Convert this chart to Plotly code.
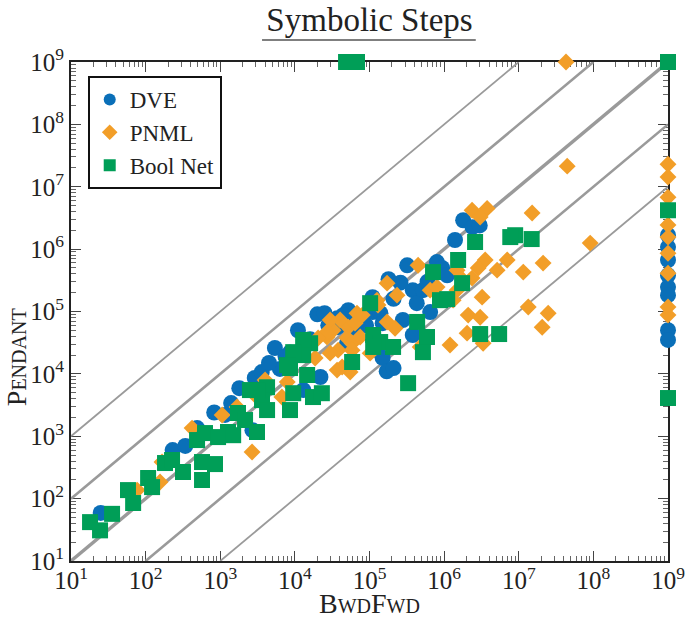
import plotly.graph_objects as go

# ---------------- data ----------------
dve_x = [25, 230, 490, 830, 1400, 2700, 2900, 5400, 6300, 8600,
         1.1e4, 1.3e4, 2.0e4, 2.2e4, 2.5e4, 3.7e4, 3.7e4, 5.2e4, 5.0e4, 6.0e4,
         6.8e4, 8.2e4, 1.1e5, 1.1e5, 1.26e5, 1.4e5, 1.5e5, 1.5e5, 1.7e5, 2.1e5,
         2.1e5, 2.6e5, 2.8e5, 3.2e5, 3.8e5, 3.8e5, 4.3e5, 5.2e5, 6.5e5, 8.0e5,
         9.4e5, 1.1e6, 1.4e6, 1.8e6, 2.4e6, 3.0e6, 1800, 3600, 1160, 340,
         2.8e4, 4.5e4, 1.6e4, 9.0e4, 1.8e5, 4.5e3, 7.5e3, 6.0e5,
         1e9, 1e9, 1e9, 1e9, 1e9, 1e9, 1e9, 1e9]
dve_y = [59, 600, 1350, 2400, 3400, 1250, 8600, 2.6e4, 1.2e4, 2.2e4,
         5.0e4, 5500, 9.0e4, 8900, 9.4e4, 7.8e4, 5.6e4, 1.05e5, 3.1e4, 6.5e4,
         5.0e4, 8.1e4, 1.7e5, 9.8e4, 2.4e4, 9.4e4, 6.5e4, 1.8e4, 1.1e4, 1.6e5,
         1.24e4, 2.9e5, 7.3e4, 5.5e5, 2.2e5, 4.2e4, 1.36e5, 2.2e5, 9.8e4, 6.2e5,
         5.0e5, 3.8e5, 1.4e6, 2.9e6, 2.25e6, 2.4e6, 5900, 1.07e4, 2200, 700,
         6.0e4, 8.8e4, 3.6e4, 6.0e4, 3.3e5, 1.5e4, 1.9e4, 3.0e5,
         1.67e6, 1.08e6, 6.7e5, 3.8e5, 2.46e5, 1.83e5, 5.0e4, 3.5e4]

pnml_x = [2.37e6, 3.77e6, 3.04e6, 1.51e7, 4.46e7, 9.06e7, 4.3e7, 4.48e5, 1.72e5, 2.34e5,
          3.55e6, 2.86e6, 7.0e6, 5.13e6, 1.15e7, 2.12e7, 2.37e6, 1.49e6, 3.23e6, 2.1e6,
          3.04e6, 2.03e6, 3.33e6, 1.2e6, 1.34e7, 2.06e7, 2.48e7, 5.2e4, 3.25e4, 6.8e4,
          4.04e4, 5.0e4, 5.85e4, 3.68e4, 5.5e4, 8.6e3, 1.72e5, 2.2e5, 4.77e5, 6.5e5,
          1.32e6, 1.8e6, 1.49e6, 1.26e5, 8.05e5, 2.97e4, 6.4e4, 8.0e4, 1.3e5, 2.7e4,
          7.5e4, 3.8e4, 5.85e4, 1.02e5, 4.3e4, 2.7e4, 2.05e4, 2.97e4, 1.87e4, 7.9e3,
          6.7e3, 1.68e3, 1.06e3, 419, 166, 156, 77, 2.67e3, 3.99e3, 1.17e4,
          2.92e3,
          1e9, 1e9, 1e9, 1e9, 1e9, 1e9, 1e9, 1e9, 1e9]
pnml_y = [4.2e6, 4.5e6, 3.26e6, 3.8e6, 2.14e7, 1.25e6, 1e9, 5.5e5, 2.85e5, 1.83e5,
          6.7e5, 4.97e5, 6.7e5, 4.6e5, 4.28e5, 5.97e5, 3.43e5, 2.2e5, 1.7e5, 8.75e4,
          8.1e4, 4.5e4, 3.1e4, 2.9e4, 1.18e5, 5.6e4, 9.4e4, 5.6e4, 5.0e4, 9.4e4,
          7.3e4, 3.75e4, 3.1e4, 1.15e4, 1.07e4, 1.55e4, 6.8e4, 5.4e4, 2.7e4, 2.2e5,
          1.52e5, 3.18e5, 4.6e5, 1.52e5, 2.46e5, 7.3e4, 6.5e4, 8.75e4, 1.27e5, 3.9e4,
          3.9e4, 2.4e4, 2.4e4, 2.15e4, 1.29e4, 4.7e4, 3.75e4, 2.15e4, 1.8e4, 7.4e3,
          4.25e3, 2.94e3, 2.19e3, 1.35e3, 386, 185, 137, 558, 7.96e3, 2.4e4,
          4.57e3,
          2.3e7, 1.43e7, 6.8e6, 2.43e6, 1.56e6, 8.6e5, 4.1e5, 1.18e5, 8.75e4]

bool_x = [18, 24.5, 35.5, 58, 68, 108, 122, 182, 226, 317,
          570, 570, 851, 489, 625, 935, 1270, 1.6e4, 1.29e4, 8.6e3,
          1.46e4, 1.75e4, 4.24e3, 3.63e3, 2.5e3, 8.6e3, 4.24e3, 1.73e3, 3.11e3, 1.49e3,
          1.54e6, 7.1e5, 1.74e6, 1.02e5, 8.8e5, 4.35e5, 5.9e5, 1.12e5, 1.39e5, 2.07e5,
          5.2e5, 5.85e4, 3.29e5, 2.3e4, 2.6e6, 1.1e6, 8.95e6, 1.49e7, 7.7e6, 3.04e6,
          5.46e6, 1.12e5, 1.29e4, 9.5e3, 9.5e3, 3.2e3, 7.86e3, 2.15e3,
          4.85e4, 6.8e4, 1e9, 1e9, 1e9]
bool_y = [42, 31, 57, 137, 85, 214, 153, 372, 416, 267,
          199, 386, 358, 869, 1125, 970, 1170, 3.1e4, 2.0e4, 1.24e4,
          9.6e3, 4.25e3, 6.1e3, 3.8e3, 5.5e3, 2.63e3, 2.63e3, 2.36e3, 1.17e3, 1.04e3,
          6.7e5, 4.28e5, 2.85e5, 1.36e5, 1.52e5, 6.8e4, 3.9e4, 4.2e4, 3.24e4, 2.7e4,
          2.23e4, 1.55e4, 7.1e3, 4.9e3, 1.3e6, 1.58e5, 1.67e6, 1.45e6, 1.56e6, 4.35e4,
          4.35e4, 2.7e4, 3.5e4, 2.23e4, 4.9e3, 5.5e3, 1.38e4, 1.82e3,
          1e9, 1e9, 1e9, 4.2e6, 4.1e3]

# tick labels (decades 10^1 .. 10^9)
tick_vals = [1e1, 1e2, 1e3, 1e4, 1e5, 1e6, 1e7, 1e8, 1e9]
tick_text = ["10<sup>1</sup>", "10<sup>2</sup>", "10<sup>3</sup>", "10<sup>4</sup>",
             "10<sup>5</sup>", "10<sup>6</sup>", "10<sup>7</sup>", "10<sup>8</sup>",
             "10<sup>9</sup>"]

# reference diagonals y = ratio * x
ref_ratios = [100, 10, 1, 0.1, 0.01]
ref_widths = [1.8, 2.6, 3.4, 2.6, 1.8]
AX_MIN, AX_MAX = 1e1, 1e9

FONT = "Liberation Serif"
BLUE, ORANGE, GREEN = "#0A6FB8", "#F29E28", "#009E57"
GRAY = "#9A9A9A"
INK = "#222222"

fig = go.Figure()

for r, w in zip(ref_ratios, ref_widths):
    x0 = max(AX_MIN, AX_MIN / r)
    x1 = min(AX_MAX, AX_MAX / r)
    fig.add_trace(go.Scatter(x=[x0, x1], y=[x0 * r, x1 * r], mode="lines",
                             line=dict(color=GRAY, width=w), showlegend=False,
                             hoverinfo="skip"))

fig.add_trace(go.Scatter(x=dve_x, y=dve_y, mode="markers", name="DVE",
                         cliponaxis=False,
                         marker=dict(symbol="circle", size=16, color=BLUE,
                                     line=dict(width=0))))
fig.add_trace(go.Scatter(x=pnml_x, y=pnml_y, mode="markers", name="PNML",
                         cliponaxis=False,
                         marker=dict(symbol="diamond", size=13, color=ORANGE,
                                     line=dict(width=0))))
fig.add_trace(go.Scatter(x=bool_x, y=bool_y, mode="markers", name="Bool Net",
                         cliponaxis=False,
                         marker=dict(symbol="square", size=16, color=GREEN,
                                     line=dict(width=0))))

axis_common = dict(
    type="log", range=[1, 9], tickmode="array", tickvals=tick_vals, ticktext=tick_text,
    showgrid=False, zeroline=False, automargin=False,
    showline=True, linecolor=INK, linewidth=2, mirror="allticks",
    ticks="inside", ticklen=10, tickwidth=1, tickcolor="#444444",
    minor=dict(ticks="inside", ticklen=5, tickwidth=1, tickcolor="#666666",
               dtick="D1", showgrid=False),
    tickfont=dict(family=FONT, size=25, color=INK),
    ticklabeloverflow="allow",
    layer="below traces",
)

fig.update_xaxes(**axis_common, ticklabelstandoff=-4)
fig.update_yaxes(**axis_common)

fig.update_layout(
    width=685, height=617,
    margin=dict(l=71, r=17, t=62, b=56, autoexpand=False),
    paper_bgcolor="white", plot_bgcolor="white",
    title=dict(text="Symbolic Steps", x=0.5, xref="paper", xanchor="center",
               y=1 - 19 / 617, yref="container", yanchor="middle",
               font=dict(family=FONT, size=33, color=INK)),
    legend=dict(x=0.028, y=0.972, xanchor="left", yanchor="top",
                bgcolor="white", bordercolor="#111111", borderwidth=2,
                font=dict(family=FONT, size=23, color=INK),
                itemsizing="constant", tracegroupgap=0),
    shapes=[dict(type="line", xref="paper", yref="paper",
                 x0=0.32, x1=0.678, y0=1.044, y1=1.044,
                 line=dict(color="#555555", width=1.5))],
    annotations=[
        dict(text="B<span style='font-size:20px'>WD</span>F<span style='font-size:20px'>WD</span>",
             xref="paper", yref="paper", x=0.5, y=-0.086,
             xanchor="center", yanchor="middle", showarrow=False,
             font=dict(family=FONT, size=28, color=INK)),
        dict(text="P<span style='font-size:20px'>ENDANT</span>",
             xref="paper", yref="paper", x=-0.09, y=0.409, textangle=-90,
             xanchor="center", yanchor="middle", showarrow=False,
             font=dict(family=FONT, size=28, color=INK)),
    ],
    showlegend=True,
)

fig.write_html("out.html", config={"displayModeBar": False},
               post_script="document.body.style.margin='0px';")
